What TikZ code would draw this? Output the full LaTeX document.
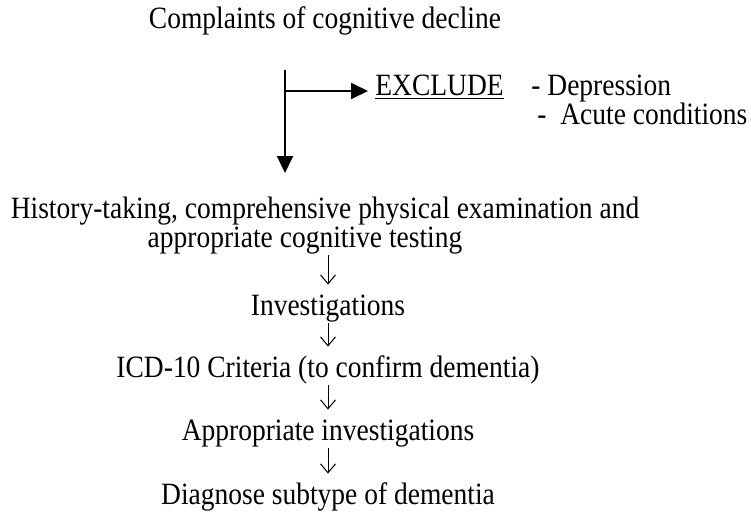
\documentclass[tikz,border=0pt]{standalone}
\usepackage{fontspec}
\setmainfont{Liberation Serif}[FakeStretch=0.887]
\usetikzlibrary{arrows.meta,positioning}

\begin{document}
\begin{tikzpicture}[x=0.5pt,y=-0.5pt,
    txt/.style={inner sep=0pt,anchor=base,text height=10.5pt,text depth=3pt,font=\fontsize{15.5}{18}\selectfont},
    bigarrow/.style={line width=1pt,-{Triangle[length=8.5pt,width=8pt]}},
    down/.style={line width=0.5pt,-{Straight Barb[length=4.5pt,width=7.5pt]},shorten <=1pt,shorten >=4.5pt}]

  \useasboundingbox (0,0) rectangle (751,515);

  \node[txt] (complaint) at (325,28) {Complaints of cognitive decline};
  \coordinate (top) at (285,70);
  \coordinate (split) at (285,91);
  \coordinate (bottom) at (285,173);
  \node[txt,anchor=base west] (exclude) at (375,95) {\underline{EXCLUDE}};
  \node[txt,anchor=base west] (dep) at (531,95) {- Depression};
  \node[txt,anchor=base west] (acute) at (537,124) {-\ \ Acute conditions};

  \node[txt] (hist1) at (325,218) {History-taking, comprehensive physical examination and};
  \node[txt] (hist2) at (305,247) {appropriate cognitive testing};
  \node[txt] (invest) at (328,315) {Investigations};
  \node[txt] (icd) at (328,377) {ICD-10 Criteria (to confirm dementia)};
  \node[txt] (approp) at (328,440) {Appropriate investigations};
  \node[txt] (diag) at (328,504) {Diagnose subtype of dementia};

  \draw[bigarrow] (top) -- (bottom);
  \draw[bigarrow,shorten >=3.5pt] (split) -- (split -| exclude.west);

  \draw[down] (hist2.south -| invest) -- (invest);
  \draw[down] (invest) -- (icd);
  \draw[down] (icd) -- (approp);
  \draw[down] (approp) -- (diag);
\end{tikzpicture}
\end{document}
